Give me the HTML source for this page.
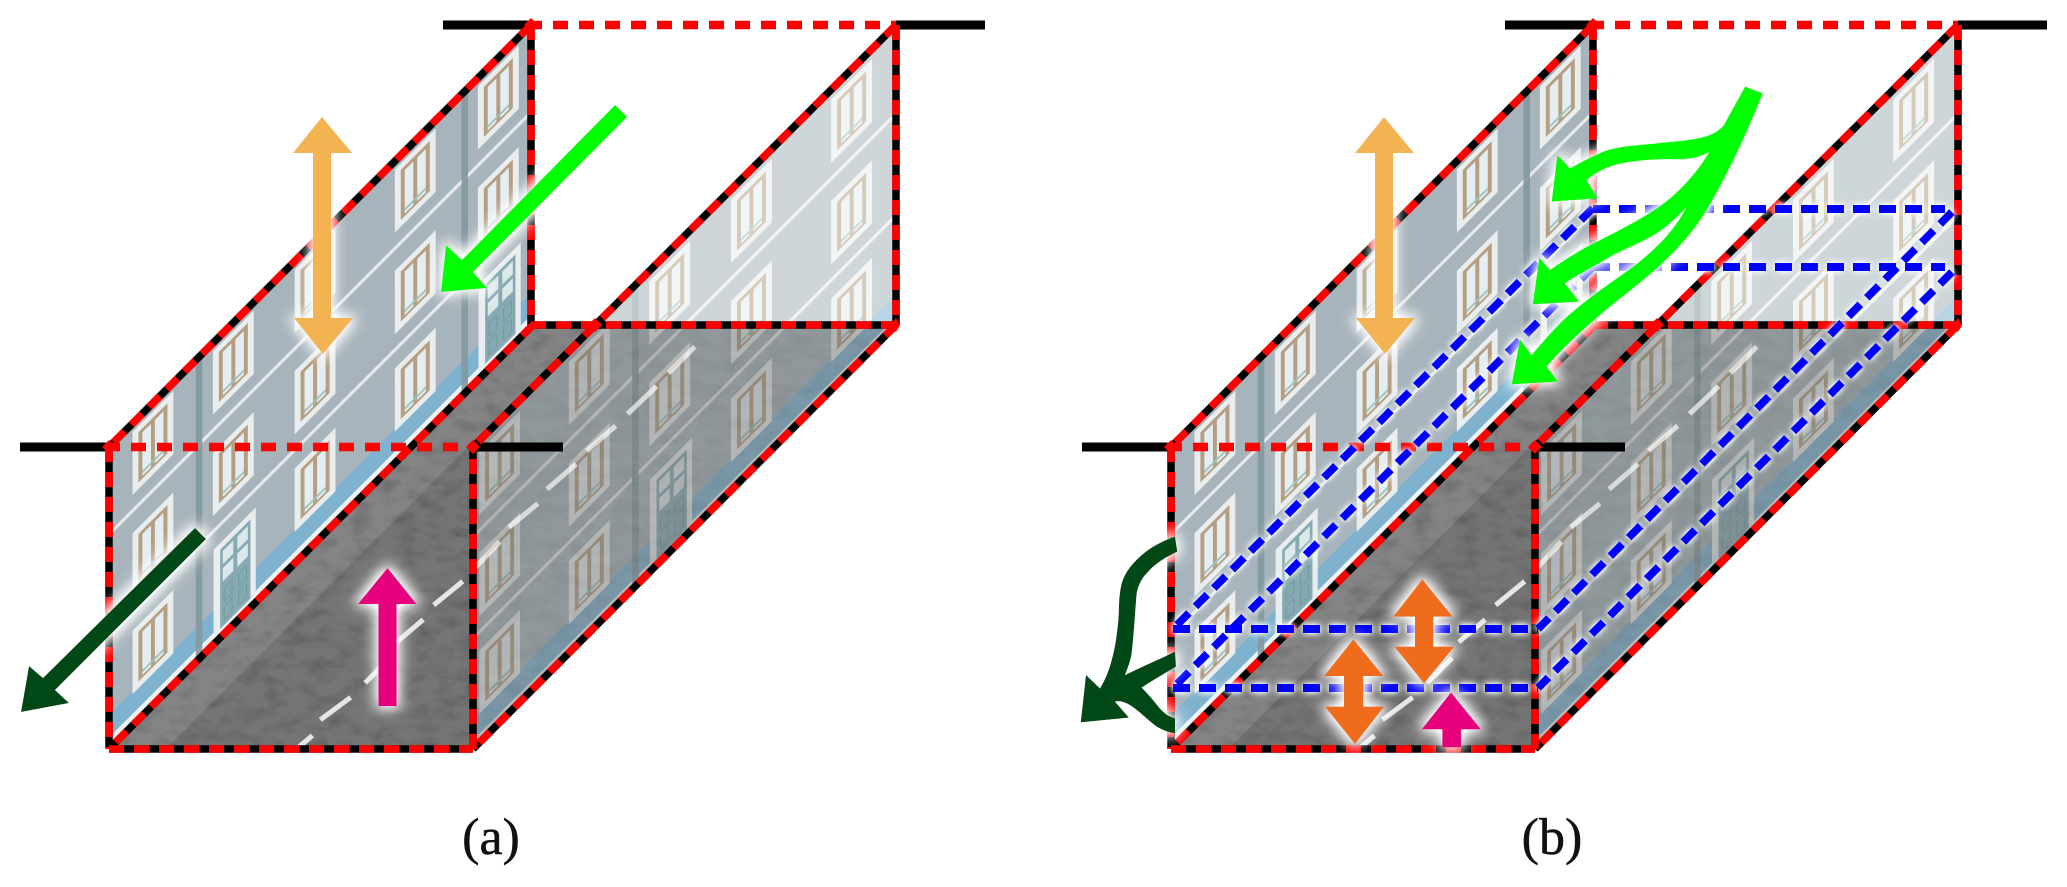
<!DOCTYPE html>
<html><head><meta charset="utf-8"><style>html,body{margin:0;padding:0;background:#fff}svg{display:block}</style></head>
<body>
<svg xmlns="http://www.w3.org/2000/svg" width="2067" height="887" viewBox="0 0 2067 887">
<defs>
<filter id="tex" x="0" y="0" width="100%" height="100%"><feTurbulence type="fractalNoise" baseFrequency="0.06 0.11" numOctaves="3" seed="4" result="n"/><feColorMatrix in="n" type="matrix" values="0 0 0 0 0  0 0 0 0 0  0 0 0 0 0  0 0 0 .7 -0.3"/><feComposite in2="SourceAlpha" operator="in" result="d"/><feMerge><feMergeNode in="SourceGraphic"/><feMergeNode in="d"/></feMerge></filter>
<filter id="glow" filterUnits="userSpaceOnUse" x="0" y="0" width="2067" height="887"><feMorphology in="SourceAlpha" operator="dilate" radius="3"/><feGaussianBlur stdDeviation="7"/><feComponentTransfer result="a"><feFuncA type="linear" slope="1.2"/></feComponentTransfer><feFlood flood-color="#fff"/><feComposite in2="a" operator="in"/><feMerge><feMergeNode/><feMergeNode in="SourceGraphic"/></feMerge></filter>
<filter id="glowb" filterUnits="userSpaceOnUse" x="0" y="0" width="2067" height="887"><feGaussianBlur in="SourceAlpha" stdDeviation="3.5"/><feComponentTransfer result="a"><feFuncA type="linear" slope="1.6"/></feComponentTransfer><feFlood flood-color="#fff"/><feComposite in2="a" operator="in"/><feMerge><feMergeNode/><feMergeNode in="SourceGraphic"/></feMerge></filter>
<clipPath id="cl"><polygon points="82,339 403,19 403,247 82,568"/></clipPath>
<clipPath id="cr"><polygon points="360,339 680,19 680,247 360,568"/></clipPath>

<g id="win">
<rect x="-1.5" y="-2" width="31" height="48" fill="#e9eded"/>
<rect x="3" y="3" width="22" height="38" fill="#b59f82"/>
<rect x="6" y="6" width="6.5" height="33" fill="#e4edf2"/>
<rect x="15.5" y="6" width="6.5" height="33" fill="#e4edf2"/>
<rect x="6" y="35" width="16" height="2" fill="#9cc4c0"/>
</g>
<g id="door">
<rect x="-1" y="-2" width="32" height="66" fill="#e9eded"/>
<rect x="4" y="3" width="23" height="60" fill="#86aab2"/>
<rect x="6" y="6" width="8" height="10" fill="#dce8ea"/><rect x="17" y="6" width="8" height="10" fill="#dce8ea"/>
<rect x="6" y="19" width="8" height="10" fill="#dce8ea"/><rect x="17" y="19" width="8" height="10" fill="#dce8ea"/>
<rect x="7" y="35" width="6" height="10" fill="none" stroke="#75999f" stroke-width=".8"/><rect x="18" y="35" width="6" height="10" fill="none" stroke="#75999f" stroke-width=".8"/>
<rect x="7" y="49" width="6" height="10" fill="none" stroke="#75999f" stroke-width=".8"/><rect x="18" y="49" width="6" height="10" fill="none" stroke="#75999f" stroke-width=".8"/>
</g>

<g id="wall">
<rect x="-20" y="0" width="460" height="640" fill="#a7b4bb"/>
<g stroke="#e5e9eb" stroke-width="2.4" fill="none">
<path d="M-20,508 L460,28"/><path d="M-20,585 L460,105"/>
</g>
<path d="M-20,645 L460,165 L460,183 L-20,663Z" fill="#7fb2cf"/>
<path d="M-20,662 L460,182 L460,188 L-20,668Z" fill="#eef3f5"/>
<g fill="#83989f" opacity=".9"><rect x="148.5" y="200" width="5" height="320"/><rect x="350" y="0" width="5" height="320"/></g>
<g transform="matrix(1,-1,0,1,34,396)"><use href="#win"/></g><g transform="matrix(1,-1,0,1,34,473)"><use href="#win"/></g><g transform="matrix(1,-1,0,1,34,547)"><use href="#win"/></g>
<g transform="matrix(1,-1,0,1,102,328)"><use href="#win"/></g><g transform="matrix(1,-1,0,1,102,405)"><use href="#win"/></g><g transform="matrix(1,-1,0,1,102,479)"><use href="#win"/></g>
<g transform="matrix(1,-1,0,1,163,267)"><use href="#win"/></g><g transform="matrix(1,-1,0,1,163,344)"><use href="#win"/></g><g transform="matrix(1,-1,0,1,163,418)"><use href="#door"/></g>
<g transform="matrix(1,-1,0,1,225,205)"><use href="#win"/></g><g transform="matrix(1,-1,0,1,225,282)"><use href="#win"/></g><g transform="matrix(1,-1,0,1,225,356)"><use href="#win"/></g>
<g transform="matrix(1,-1,0,1,301,129)"><use href="#win"/></g><g transform="matrix(1,-1,0,1,301,206)"><use href="#win"/></g><g transform="matrix(1,-1,0,1,301,280)"><use href="#win"/></g>
<g transform="matrix(1,-1,0,1,364,66)"><use href="#win"/></g><g transform="matrix(1,-1,0,1,364,143)"><use href="#win"/></g><g transform="matrix(1,-1,0,1,364,217)"><use href="#door"/></g>
</g>

<path id="dashes" d="M527,263 L507,283 M498,293 L476,314 M467,323 L445,342 M437,352 L415,371 M408,382 L386,400 M379,411 L361,430 M351,441 L329,459 M321,470 L301,487 M296,499 L277,518 M266,529 L243,546 M237,558 L225,568" stroke-width="3.8" fill="none"/>

<g id="base">
<g transform="scale(1.3183)">
<polygon points="403,247 680,247 360,568 82,568" fill="#757575" filter="url(#tex)"/>
<polygon points="403,247 447,247 126,568 82,568" fill="#848484" filter="url(#tex)"/>
<use href="#dashes" stroke="#e6e6e6"/>
<g clip-path="url(#cl)"><use href="#wall"/></g>
<g clip-path="url(#cr)"><g transform="translate(331,-53)" opacity=".55"><use href="#wall"/></g></g>
<g clip-path="url(#cr)"><use href="#dashes" stroke="#e6e6e6" opacity=".6"/></g>
</g>
<g fill="none" stroke-width="9" stroke="#000">
<path d="M443,25H531M896,25H985M20,447H109M473,447H563"/>
</g>
<g fill="none" stroke-width="7.5" stroke="#000">
<path d="M531,25L109,447"/><path d="M531,25V325"/><path d="M533,325L109,749"/><path d="M109,447V749"/><path d="M109,749H473"/><path d="M473,749V447"/><path d="M896,25L473,447"/><path d="M896,25V325"/><path d="M896,325L473,749"/><path d="M531,325H896"/>
</g>
<g fill="none" stroke-width="7.6" stroke="#f00" stroke-dasharray="15 10">
<path d="M531,25L109,447"/><path d="M531,25V325"/><path d="M533,325L109,749"/><path d="M109,447V749"/><path d="M109,749H473"/><path d="M473,749V447"/><path d="M896,25L473,447"/><path d="M896,25V325"/><path d="M896,325L473,749"/><path d="M531,325H896"/>
</g>
<g fill="none" stroke-width="8.5" stroke="#f00" stroke-dasharray="15 11">
<path d="M527,25H896"/><path d="M105,447H473"/>
</g>
<polygon points="109,440 116,447 109,454 102,447" fill="#f00"/><polygon points="531,18 538,25 531,32 524,25" fill="#f00"/><polygon points="473,440 480,447 473,454 466,447" fill="#f00"/>
<polygon points="595,318 602,325 595,332 588,325" fill="#f00"/><polygon points="896,318 900,325 896,332 890,325" fill="#f00"/>
</g>
</defs>

<use href="#base"/>
<use href="#base" transform="translate(1062,0)"/>

<g filter="url(#glow)">
<polygon points="322,117 352,153 331,153 331,318 353,318 323,354 294,318 313,318 313,153 293,153" fill="#f4b353"/>
</g>
<g filter="url(#glow)">
<polygon points="615,105 627,117 473,272 487,288 441,292 446,245 462,260" fill="#00ff00"/>
</g>
<g filter="url(#glow)">
<polygon points="195,528 206,539 55,690 69,703 21,712 29,666 43,678" fill="#034a17"/>
</g>
<g filter="url(#glow)">
<polygon points="387.5,568 416.5,604 396.5,604 396.5,706 378.5,706 378.5,604 358,604" fill="#e6007e"/>
</g>

<g filter="url(#glowb)" fill="none" stroke="#0000ff" stroke-width="8" stroke-dasharray="17 9">
<path d="M1593,209H1945"/><path d="M1593,267H1945"/>
<path d="M1952,212L1538,629"/><path d="M1952,272L1538,688"/>
<path d="M1593,208L1173,629"/><path d="M1593,267L1173,688"/>
<path d="M1173,629H1538"/><path d="M1173,688H1538"/>
</g>

<g filter="url(#glow)">
<polygon points="1384,117 1414,153 1393,153 1393,318 1415,318 1385,354 1356,318 1375,318 1375,153 1355,153" fill="#f4b353"/>
</g>

<g filter="url(#glow)">
<g transform="translate(1500,70) scale(.33333)" fill="#00ff00">
<path d="M735,50 C715,115 680,170 640,190 C600,210 540,212 450,222 C400,226 340,232 310,245 C280,258 240,278 210,295 L172,255 L155,395 L292,385 L260,330 C290,305 320,292 345,285 C390,273 460,266 520,268 C570,270 605,260 630,245 L788,70 Z"/>
<path d="M735,50 L625,250 C590,310 530,375 470,415 C410,455 340,490 290,515 C240,540 190,572 150,600 L118,563 L98,703 L238,695 L195,640 C240,610 290,585 340,555 C400,525 470,500 515,455 C550,425 600,370 640,310 C680,250 760,130 788,70 Z"/>
<path d="M720,100 L640,240 L552,425 C510,500 450,550 400,590 C330,640 240,700 180,760 C150,790 120,825 95,855 L60,808 L35,943 L175,935 L140,890 C200,820 290,740 380,670 C470,600 560,520 620,420 C680,320 750,170 788,70 Z"/>
</g>
</g>

<g filter="url(#glow)">
<g transform="translate(1060,520) scale(.33333)" fill="#034a17">
<path d="M345,50 C310,62 285,75 255,97 C220,125 195,155 185,190 C175,230 178,260 175,300 C170,350 165,385 155,420 C148,450 135,480 120,505 L78,465 L62,607 L207,593 L165,545 C185,540 205,550 230,570 C255,590 270,605 290,620 C310,632 330,638 345,640 L345,595 C325,590 310,578 295,560 C280,540 262,520 245,503 C280,480 315,460 348,440 L345,395 C295,420 245,440 195,465 C205,440 212,420 215,400 C222,340 225,280 230,220 C235,195 245,175 260,160 C285,130 320,110 352,95 Z"/>
</g>
</g>

<g filter="url(#glow)">
<g transform="translate(1060,520) scale(.33333)">
<polygon points="1087,178 1178,290 1120,290 1120,380 1183,380 1092,490 1003,380 1065,380 1065,290 1000,290" fill="#ef6c1a"/>
<polygon points="880,358 970,468 910,468 910,560 972,560 885,672 795,560 852,560 852,468 792,468" fill="#ef6c1a"/>
<polygon points="1173,517 1263,628 1203,628 1203,682 1147,682 1147,628 1085,628" fill="#e6007e"/>
</g>
</g>

<text x="491" y="854" text-anchor="middle" font-family="'Liberation Serif',serif" font-size="52" fill="#111" stroke="#111" stroke-width=".5">(a)</text>
<text x="1552" y="854" text-anchor="middle" font-family="'Liberation Serif',serif" font-size="52" fill="#111" stroke="#111" stroke-width=".5">(b)</text>
</svg>
</body></html>
